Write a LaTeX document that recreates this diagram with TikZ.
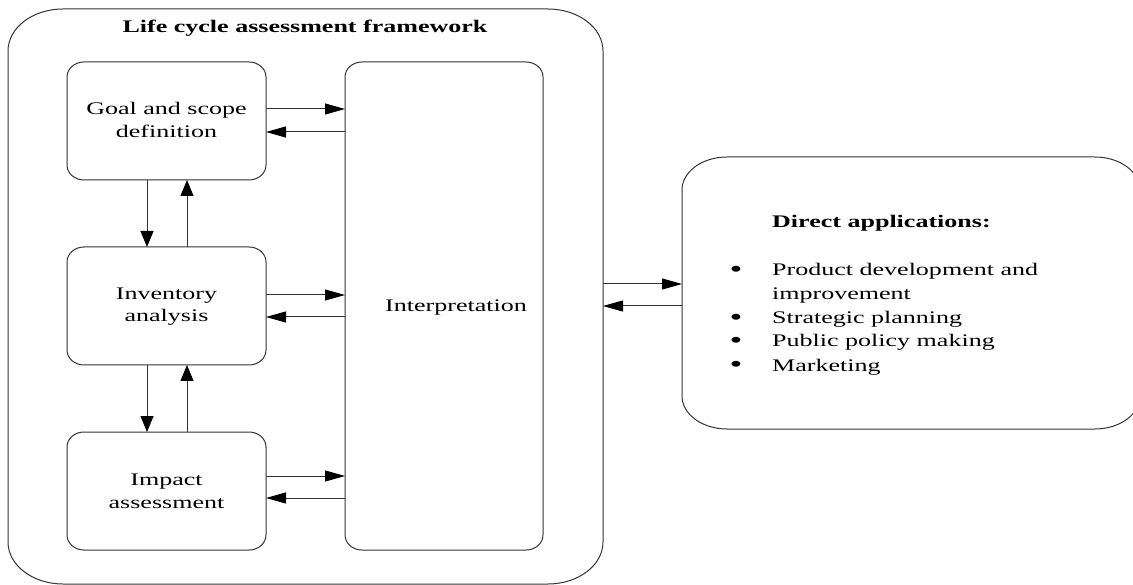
\documentclass[tikz,border=0pt]{standalone}
\usepackage{fontspec}
\setmainfont{Liberation Serif}[FakeStretch=1.47]
\usetikzlibrary{arrows.meta,calc}

% outline of a node with elliptical corners: node name, x radius, y radius
\newcommand\softframe[3]{%
  \draw[line] ([xshift=#2]#1.north west) -- ([xshift=-#2]#1.north east)
    .. controls ([xshift=-0.448*#2]#1.north east) and ([yshift=-0.448*#3]#1.north east) .. ([yshift=-#3]#1.north east)
    -- ([yshift=#3]#1.south east)
    .. controls ([yshift=0.448*#3]#1.south east) and ([xshift=-0.448*#2]#1.south east) .. ([xshift=-#2]#1.south east)
    -- ([xshift=#2]#1.south west)
    .. controls ([xshift=0.448*#2]#1.south west) and ([yshift=0.448*#3]#1.south west) .. ([yshift=#3]#1.south west)
    -- ([yshift=-#3]#1.north west)
    .. controls ([yshift=-0.448*#3]#1.north west) and ([xshift=0.448*#2]#1.north west) .. ([xshift=#2]#1.north west)
    -- cycle;}

\tikzset{
  line/.style={draw=black!80, line width=1pt},
  box/.style={rectangle, inner sep=0pt, outer sep=0pt, draw=none},
  harrow/.style={line, -{Triangle[length=20pt,width=11pt,color=black]}},
  varrow/.style={line, -{Triangle[length=16pt,width=13pt,color=black]}},
  lbl/.style={font=\fontsize{17.7}{23}\selectfont, inner sep=0pt, anchor=base},
  dot/.style={font=\fontsize{25}{25}\selectfont, inner sep=0pt, anchor=base},
}

\begin{document}
\begin{tikzpicture}[x=1pt,y=-1pt]
\useasboundingbox (0,0) rectangle (1133,585);
\clip (0,0) rectangle (1133,585);

% boxes
\node[box, minimum width=595pt, minimum height=575pt] (frame) at (305.5,296.5) {};
\node[box, minimum width=199pt, minimum height=118pt] (goal) at (166.5,121) {};
\node[box, minimum width=199pt, minimum height=118pt] (inv) at (166.5,306) {};
\node[box, minimum width=199pt, minimum height=118pt] (impact) at (166.5,491) {};
\node[box, minimum width=198pt, minimum height=488pt] (interp) at (444,306) {};
\node[box, minimum width=458pt, minimum height=272pt] (apps) at (911,293) {};

\softframe{frame}{55pt}{42pt}
\softframe{goal}{17pt}{15pt}
\softframe{inv}{17pt}{15pt}
\softframe{impact}{17pt}{15pt}
\softframe{interp}{17pt}{15pt}
\softframe{apps}{45pt}{33pt}

% labels
\node[lbl] (title) at (305,33) {\bfseries Life cycle assessment framework};
\node[lbl] (goal-l1) at (166.5,115) {Goal and scope};
\node[lbl] (goal-l2) at (166.5,138) {definition};
\node[lbl] (inv-l1) at (166.5,300) {Inventory};
\node[lbl] (inv-l2) at (166.5,322) {analysis};
\node[lbl] (imp-l1) at (166.5,485) {Impact};
\node[lbl] (imp-l2) at (166.5,508) {assessment};
\node[lbl] (interp-l) at (456,312) {Interpretation};

\node[lbl, anchor=base west] (apps-head) at (772,228) {\bfseries Direct applications:};
\node[dot] (bul1) at (736,278) {\textbullet};
\node[dot] (bul2) at (736,326) {\textbullet};
\node[dot] (bul3) at (736,349) {\textbullet};
\node[dot] (bul4) at (736,373) {\textbullet};
\node[lbl, anchor=base west] (item1) at (772,276) {Product development and};
\node[lbl, anchor=base west] (item1b) at (772,300) {improvement};
\node[lbl, anchor=base west] (item2) at (772,324) {Strategic planning};
\node[lbl, anchor=base west] (item3) at (772,347) {Public policy making};
\node[lbl, anchor=base west] (item4) at (772,371) {Marketing};

% horizontal exchanges with the interpretation box
\coordinate (g1) at ([yshift=12pt]goal.east);
\coordinate (g2) at ([yshift=-11pt]goal.east);
\coordinate (i1) at ([yshift=11pt]inv.east);
\coordinate (i2) at ([yshift=-11pt]inv.east);
\coordinate (m1) at ([yshift=15pt]impact.east);
\coordinate (m2) at ([yshift=-7pt]impact.east);
\draw[harrow] (g1) -- (g1 -| interp.west);
\draw[harrow] (g2 -| interp.west) -- (g2);
\draw[harrow] (i1) -- (i1 -| interp.west);
\draw[harrow] (i2 -| interp.west) -- (i2);
\draw[harrow] (m1) -- (m1 -| interp.west);
\draw[harrow] (m2 -| interp.west) -- (m2);

% vertical exchanges between the phases
\coordinate (gd) at ([xshift=-19.5pt]goal.south);
\coordinate (gu) at ([xshift=20.5pt]goal.south);
\coordinate (id) at ([xshift=-19.5pt]inv.south);
\coordinate (iu) at ([xshift=20.5pt]inv.south);
\draw[varrow] (gd) -- (gd |- inv.north);
\draw[varrow] (gu |- inv.north) -- (gu);
\draw[varrow] (id) -- (id |- impact.north);
\draw[varrow] (iu |- impact.north) -- (iu);

% framework <-> applications
\coordinate (f1) at ([yshift=12.5pt]frame.east);
\coordinate (f2) at ([yshift=-9.5pt]frame.east);
\draw[harrow] (f1) -- (f1 -| apps.west);
\draw[harrow] (f2 -| apps.west) -- (f2);
\end{tikzpicture}
\end{document}
